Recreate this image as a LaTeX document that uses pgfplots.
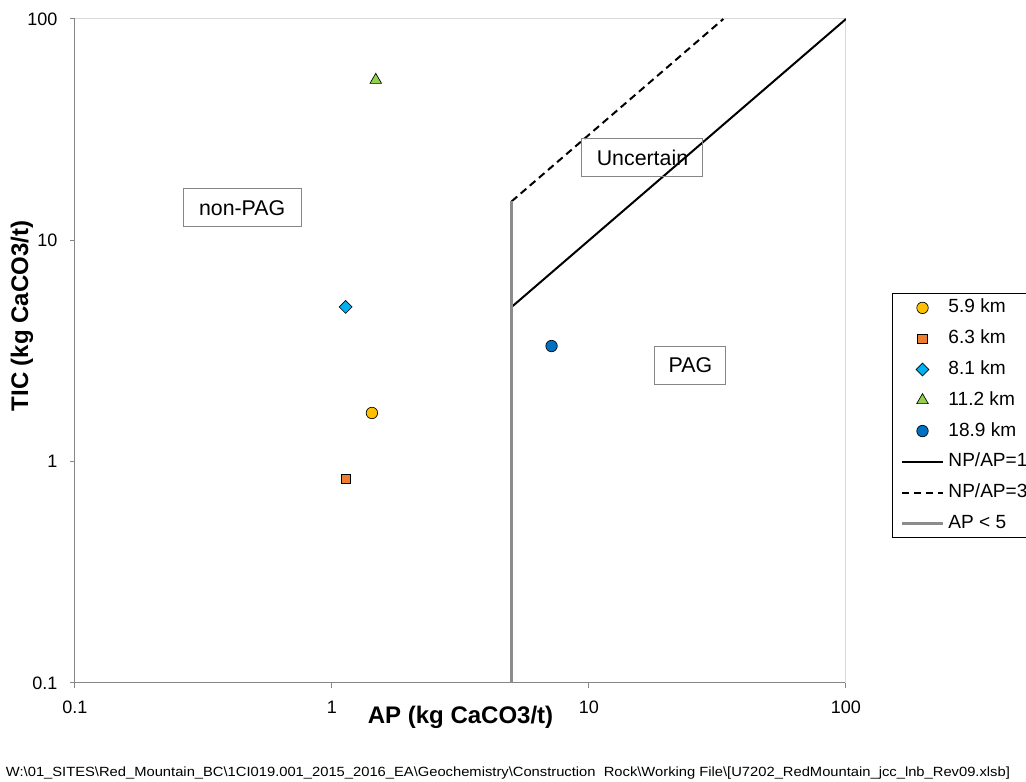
\documentclass[border=0pt]{standalone}
\usepackage{fontspec}
\setmainfont{Liberation Sans}
\usepackage{graphicx}
\usepackage{pgfplots}
\pgfplotsset{compat=1.18}
\definecolor{cY}{HTML}{FFC000}
\definecolor{cO}{HTML}{ED7D31}
\definecolor{cLB}{HTML}{00B0F0}
\definecolor{cG}{HTML}{92D050}
\definecolor{cB}{HTML}{0070C0}
\definecolor{axgray}{HTML}{868686}
\definecolor{lgray}{HTML}{D9D9D9}
\definecolor{apgray}{HTML}{8C8C8C}
\begin{document}
\begin{tikzpicture}
\useasboundingbox (0,0) rectangle (769.5pt,586.5pt);
\begin{axis}[
  at={(56.25pt,74.25pt)}, anchor=south west,
  scale only axis, width=578.25pt, height=498pt,
  xmode=log, ymode=log,
  xmin=0.1, xmax=100, ymin=0.1, ymax=100,
  xtick={0.1,1,10,100}, ytick={0.1,1,10,100},
  xticklabels={0.1,1,10,100}, yticklabels={0.1,1,10,100},
  xminorticks=false, yminorticks=false,
  axis x line*=bottom, axis y line*=left,
  axis line style={-, draw=axgray, line width=0.75pt},
  tick align=outside, major tick length=3.75pt,
  tick style={draw=axgray, line width=0.75pt},
  /pgf/number format/assume math mode=true,
  ticklabel style={font=\fontsize{13.5}{16}\selectfont},
  xticklabel style={yshift=-6pt},
  yticklabel style={xshift=-6pt},
  legend image code/.code={\draw[mark repeat=2,mark phase=2,#1] plot coordinates {(0cm,0cm) (0.54cm,0cm) (1.08cm,0cm)};},
  legend style={at={(1.0597,0.5873)}, anchor=north west, draw=black, line width=0.75pt,
    font=\fontsize{14.3}{17}\selectfont, inner xsep=6pt, inner ysep=4pt,
    row sep=9.6pt, column sep=3pt,
    nodes={inner sep=0pt, text height=10.5pt, text depth=3pt}},
  legend cell align=left,
]
\draw[lgray, line width=0.75pt] (rel axis cs:0,1) -- (rel axis cs:1,1) -- (rel axis cs:1,0);
\addplot[only marks, mark=*, mark size=4.3pt, mark options={fill=cY, draw=black, line width=0.5pt}] coordinates {(1.43,1.66)};
\addlegendentry{5.9 km}
\addplot[only marks, mark=square*, mark size=3.6pt, mark options={fill=cO, draw=black, line width=0.5pt}] coordinates {(1.13,0.836)};
\addlegendentry{6.3 km}
\addplot[only marks, mark=square*, mark size=3.4pt, mark options={fill=cLB, draw=black, line width=0.5pt, rotate=45}] coordinates {(1.13,5.0)};
\addlegendentry{8.1 km}
\addplot[only marks, mark=triangle*, mark size=5pt, mark options={fill=cG, draw=black, line width=0.5pt}] coordinates {(1.48,53)};
\addlegendentry{11.2 km}
\addplot[only marks, mark=*, mark size=4.3pt, mark options={fill=cB, draw=black, line width=0.5pt}] coordinates {(7.15,3.33)};
\addlegendentry{18.9 km}
\addplot[black, line width=1.5pt, no marks] coordinates {(5,5) (100,100)};
\addlegendentry{NP/AP=1}
\addplot[black, line width=1.5pt, no marks, dash pattern=on 5.5pt off 3.5pt] coordinates {(5,15) (33.33,100)};
\addlegendentry{NP/AP=3}
\addplot[apgray, line width=2.25pt, no marks] coordinates {(5,0.1) (5,15)};
\addlegendentry{AP < 5}
\node[draw=axgray, line width=0.75pt, minimum width=88.5pt, minimum height=28.5pt, inner sep=0pt, font=\fontsize{16}{19}\selectfont] at (axis cs:0.447,14.0) {non-PAG};
\node[draw=axgray, line width=0.75pt, minimum width=90.75pt, minimum height=28.5pt, inner sep=0pt, font=\fontsize{16}{19}\selectfont] at (axis cs:16.15,23.6) {Uncertain};
\node[draw=axgray, line width=0.75pt, minimum width=53.25pt, minimum height=28pt, inner sep=0pt, font=\fontsize{16}{19}\selectfont] at (axis cs:24.8,2.72) {PAG};
\end{axis}
\node[font=\bfseries\fontsize{18}{21}\selectfont] at (345.4pt,48.75pt) {AP (kg CaCO3/t)};
\node[rotate=90, font=\bfseries\fontsize{18}{21}\selectfont] at (16.5pt,349.5pt) {TIC (kg CaCO3/t)};
\node[inner sep=0pt] at (381pt,6.75pt) {\resizebox{753pt}{\height}{\fontsize{10}{11}\selectfont W:\textbackslash 01\_SITES\textbackslash Red\_Mountain\_BC\textbackslash 1CI019.001\_2015\_2016\_EA\textbackslash Geochemistry\textbackslash Construction\ \ Rock\textbackslash Working File\textbackslash [U7202\_RedMountain\_jcc\_lnb\_Rev09.xlsb]}};
\end{tikzpicture}
\end{document}
